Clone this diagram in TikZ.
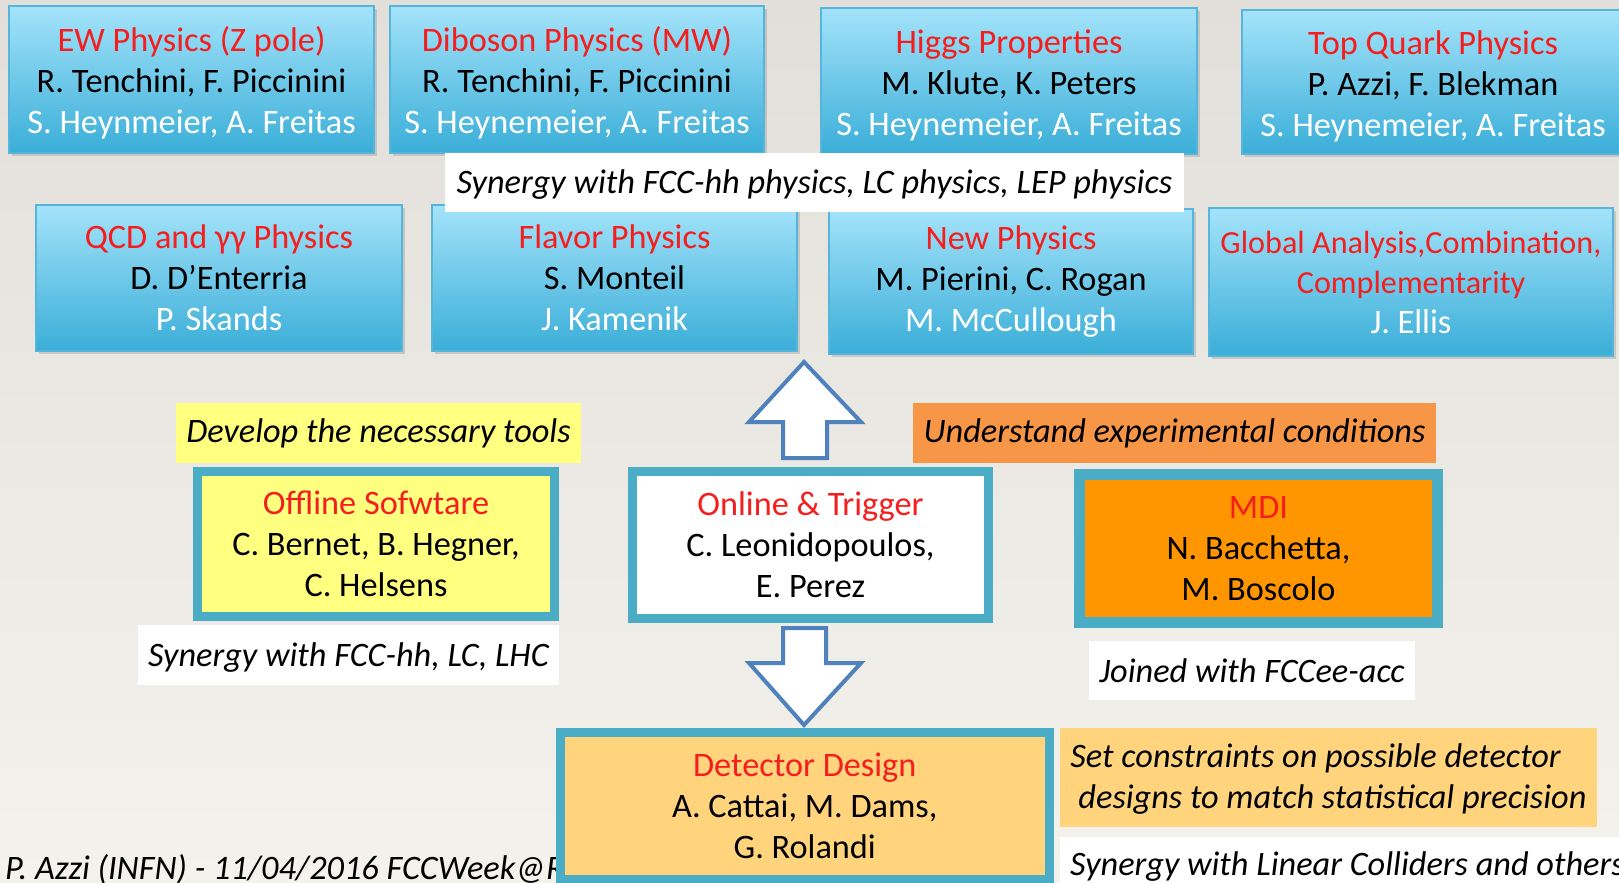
\documentclass[tikz,border=0pt]{standalone}
\usepackage{fontspec}
\setmainfont{Carlito}
\usetikzlibrary{shadows}
\definecolor{bgtop}{RGB}{226,223,219}
\definecolor{bgbot}{RGB}{244,242,237}
\definecolor{boxtop}{RGB}{164,227,250}
\definecolor{boxbot}{RGB}{58,174,216}
\definecolor{boxedge}{RGB}{85,181,218}
\definecolor{titlered}{RGB}{245,30,30}
\definecolor{aqua}{RGB}{75,172,198}
\definecolor{arrowblue}{RGB}{79,129,189}
\definecolor{lyellow}{RGB}{255,255,128}
\definecolor{lorange}{RGB}{247,150,70}
\definecolor{mdiorange}{RGB}{255,150,0}
\definecolor{peach}{RGB}{255,212,125}
\tikzset{
  every node/.style={font=\fontsize{34.3}{41}\selectfont, inner sep=0pt, align=center},
  physbox/.style={rectangle, draw=boxedge, line width=1.5pt, top color=boxtop, bottom color=boxbot,
    drop shadow={shadow xshift=3pt, shadow yshift=-3pt, opacity=0.3}},
  thickbox/.style={rectangle, draw=aqua, line width=9pt},
  labelbox/.style={rectangle, font=\fontsize{34.3}{41}\selectfont\itshape},
  blockarrow/.style={fill=white, draw=arrowblue, line width=4pt, line join=miter},
}
\newcommand{\ttl}[1]{{\color{titlered}#1}}
\newcommand{\wht}[1]{{\color{white}#1}}
\newcommand{\upstrut}{\rule{0pt}{32pt}}
\begin{document}
\begin{tikzpicture}[x=1pt,y=-1pt]
\useasboundingbox (0,0) rectangle (1619,883);
\shade[top color=bgtop, bottom color=bgbot] (0,0) rectangle (1619,883);
\clip (0,0) rectangle (1619,883);

% footer
\node[font=\fontsize{34.3}{41}\selectfont\itshape, anchor=base west] (footer) at (5,879) {P. Azzi (INFN) - 11/04/2016 FCCWeek@R};

% top row
\node[physbox, minimum width=365pt, minimum height=147pt] (ew) at (191.5,79.5)
  {\upstrut\ttl{EW Physics (Z pole)}\\R. Tenchini, F. Piccinini\\\wht{S. Heynmeier, A. Freitas}};
\node[physbox, minimum width=374pt, minimum height=147pt] (dib) at (577,79.5)
  {\upstrut\ttl{Diboson Physics (MW)}\\R. Tenchini, F. Piccinini\\\wht{S. Heynemeier, A. Freitas}};
\node[physbox, minimum width=376pt, minimum height=146pt] (higgs) at (1009,81)
  {\upstrut\ttl{Higgs Properties}\\M. Klute, K. Peters\\\wht{S. Heynemeier, A. Freitas}};
\node[physbox, minimum width=382pt, minimum height=144pt] (top) at (1433,82)
  {\upstrut\ttl{Top Quark Physics}\\P. Azzi, F. Blekman\\\wht{S. Heynemeier, A. Freitas}};

% second row
\node[physbox, minimum width=366pt, minimum height=146pt] (qcd) at (219,278)
  {\ttl{QCD and γγ Physics}\\D. D’Enterria\\\wht{P. Skands}};
\node[physbox, minimum width=365pt, minimum height=146pt] (flavor) at (614.5,278)
  {\ttl{Flavor Physics}\\S. Monteil\\\wht{J. Kamenik}};
\node[physbox, minimum width=364pt, minimum height=145pt] (newph) at (1011,281.5)
  {\ttl{New Physics}\\M. Pierini, C. Rogan\\\wht{M. McCullough}};
\node[physbox, minimum width=404pt, minimum height=148pt, font=\fontsize{34.3}{40}\selectfont] (global) at (1411,282)
  {\ttl{\fontsize{32.2}{40}\selectfont Global Analysis,Combination,}\\\ttl{\fontsize{32.2}{40}\selectfont Complementarity}\\\wht{J. Ellis}};

\node[labelbox, fill=white, minimum width=739pt, minimum height=59pt, text depth=2pt] (syn1) at (814.5,182.5)
  {Synergy with FCC-hh physics, LC physics, LEP physics};

% labels middle
\node[labelbox, fill=lyellow, minimum width=405pt, minimum height=60pt] (develop) at (378.5,433)
  {Develop the necessary tools};
\node[labelbox, fill=lorange, minimum width=523pt, minimum height=60pt] (understand) at (1174.5,433)
  {Understand experimental conditions};

% thick boxes
\node[thickbox, fill=lyellow, minimum width=357pt, minimum height=145pt] (offline) at (376,544)
  {\ttl{Offline Sofwtare}\\C. Bernet, B. Hegner,\\C. Helsens};
\node[thickbox, fill=white, minimum width=356pt, minimum height=147pt] (online) at (810.5,545)
  {\ttl{Online \& Trigger}\\C. Leonidopoulos,\\E. Perez};
\node[thickbox, line width=11pt, fill=mdiorange, minimum width=358pt, minimum height=148pt] (mdi) at (1258.5,548.5)
  {\ttl{MDI}\\N. Bacchetta,\\M. Boscolo};

\node[labelbox, fill=white, minimum width=421pt, minimum height=60pt, text depth=1pt] (syn2) at (348.5,655)
  {Synergy with FCC-hh, LC, LHC};
\node[labelbox, fill=white, minimum width=326pt, minimum height=59pt] (joined) at (1252,670.5)
  {Joined with FCCee-acc};

% block arrows
\draw[blockarrow] (804,362) -- (861,422) -- (827,422) -- (827,458) -- (783,458) -- (783,422) -- (749,422) -- cycle;
\draw[blockarrow] (783,628) -- (826,628) -- (826,663) -- (861,663) -- (804,725) -- (749,663) -- (783,663) -- cycle;

% bottom
\node[thickbox, fill=peach, minimum width=489.5pt, minimum height=147pt] (detector) at (804.75,806)
  {\ttl{Detector Design}\\A. Cattai, M. Dams,\\G. Rolandi};
\node[labelbox, fill=peach, minimum width=537pt, minimum height=99pt, align=left, text depth=2pt] (constraints) at (1328.5,777.5)
  {Set constraints on possible detector\\\hspace*{8pt}designs to match statistical precision};
\node[labelbox, fill=white, anchor=north west, minimum height=53pt, minimum width=565pt, text depth=0.5pt] (syn3) at (1060,837)
  {\makebox[545pt][l]{Synergy with Linear Colliders and others}};
\end{tikzpicture}
\end{document}
